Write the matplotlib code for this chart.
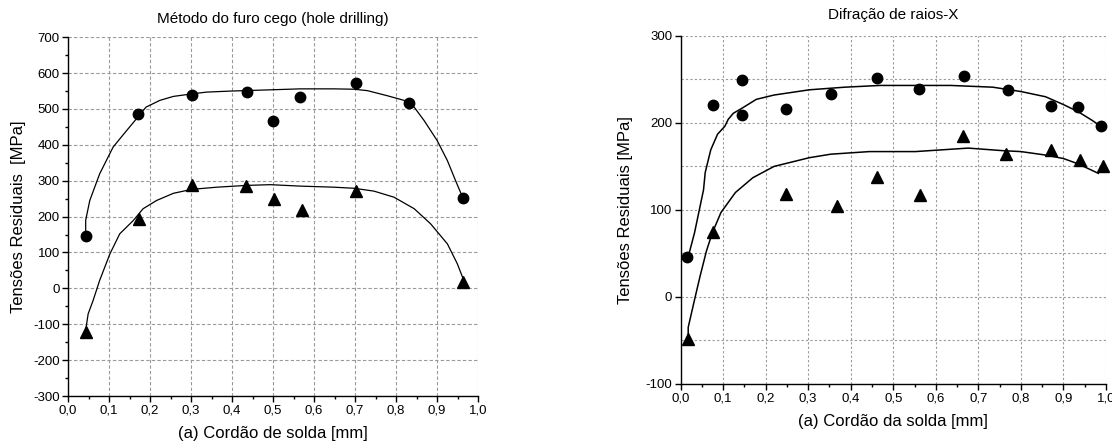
import matplotlib
matplotlib.use("Agg")
import matplotlib.pyplot as plt
from matplotlib.ticker import MultipleLocator, FuncFormatter

plt.rcParams['font.family'] = ['Liberation Sans', 'DejaVu Sans']
plt.rcParams['axes.unicode_minus'] = False

# --- Left: hole drilling ---
hd_circ_x = [0.043, 0.170, 0.302, 0.436, 0.500, 0.566, 0.703, 0.831, 0.962]
hd_circ_y = [145, 486, 538, 547, 466, 534, 572, 517, 251]
hd_tri_x = [0.043, 0.174, 0.302, 0.434, 0.503, 0.570, 0.701, 0.964]
hd_tri_y = [-122, 194, 287, 286, 248, 219, 270, 19]

hd_fit1_x = [0.043, 0.043, 0.053, 0.077, 0.110, 0.143, 0.170, 0.190, 0.224, 0.257,
             0.302, 0.338, 0.400, 0.485, 0.566, 0.648, 0.697, 0.730, 0.778, 0.819,
             0.844, 0.868, 0.900, 0.925, 0.945, 0.962]
hd_fit1_y = [150, 190, 245, 319, 394, 440, 477, 505, 524, 535,
             542, 547, 550, 553, 556, 556, 555, 551, 537, 524,
             505, 468, 412, 356, 300, 254]
hd_fit2_x = [0.043, 0.049, 0.061, 0.077, 0.102, 0.126, 0.159, 0.183, 0.216, 0.257,
             0.302, 0.363, 0.436, 0.493, 0.566, 0.648, 0.697, 0.746, 0.795, 0.844,
             0.884, 0.925, 0.949, 0.962]
hd_fit2_y = [-117, -71, -34, 22, 96, 152, 189, 222, 245, 265,
             276, 282, 287, 289, 285, 282, 279, 271, 254, 222,
             180, 124, 69, 31]

# --- Right: X-ray diffraction ---
xr_circ_x = [0.014, 0.077, 0.144, 0.144, 0.247, 0.353, 0.461, 0.560, 0.666, 0.769,
             0.871, 0.934, 0.989]
xr_circ_y = [46, 220, 249, 209, 216, 233, 251, 239, 254, 238, 219, 218, 196]
xr_tri_x = [0.018, 0.077, 0.247, 0.368, 0.462, 0.563, 0.664, 0.766, 0.871, 0.938, 0.992]
xr_tri_y = [-48, 75, 118, 104, 138, 117, 185, 164, 169, 157, 151]

xr_fit1_x = [0.018, 0.033, 0.054, 0.058, 0.071, 0.087, 0.104, 0.112, 0.124, 0.145,
             0.178, 0.220, 0.303, 0.386, 0.469, 0.552, 0.635, 0.734, 0.800, 0.858,
             0.900, 0.934, 0.967, 0.988]
xr_fit1_y = [46, 74, 123, 143, 169, 187, 196, 204, 211, 217,
             227, 232, 238, 241, 243, 243, 243, 241, 236, 230,
             221, 213, 203, 196]
xr_fit2_x = [0.018, 0.018, 0.033, 0.046, 0.061, 0.075, 0.095, 0.129, 0.170, 0.220,
             0.303, 0.353, 0.444, 0.552, 0.676, 0.759, 0.800, 0.858, 0.900, 0.934, 0.982]
xr_fit2_y = [-45, -35, -3, 24, 53, 74, 97, 120, 137, 150,
             160, 164, 167, 167, 171, 168, 167, 163, 159, 153, 142]

comma = FuncFormatter(lambda v, p: ('%.1f' % v).replace('.', ','))

fig = plt.figure(figsize=(11.12, 4.48), dpi=100)
ax1 = fig.add_axes([0.0612, 0.116, 0.3688, 0.801])
ax2 = fig.add_axes([0.612, 0.143, 0.3826, 0.777])

# left panel
ax1.plot(hd_fit1_x, hd_fit1_y, color='black', lw=0.9)
ax1.plot(hd_fit2_x, hd_fit2_y, color='black', lw=0.9)
ax1.plot(hd_circ_x, hd_circ_y, 'o', color='black', ms=7.5)
ax1.plot(hd_tri_x, hd_tri_y, '^', color='black', ms=8)
ax1.set_xlim(0, 1.0)
ax1.set_ylim(-300, 700)
ax1.xaxis.set_major_locator(MultipleLocator(0.1))
ax1.xaxis.set_minor_locator(MultipleLocator(0.05))
ax1.yaxis.set_major_locator(MultipleLocator(100))
ax1.yaxis.set_minor_locator(MultipleLocator(50))
ax1.xaxis.set_major_formatter(comma)
ax1.grid(True, which='major', color='#999999', ls=(0, (3, 2)), lw=0.8)
ax1.set_title('Método do furo cego (hole drilling)', fontsize=11, pad=10)
ax1.set_xlabel('(a) Cordão de solda [mm]', fontsize=12, labelpad=7)
ax1.set_ylabel('Tensões Residuais  [MPa]', fontsize=12, labelpad=5)

# right panel
ax2.plot(xr_fit1_x, xr_fit1_y, color='black', lw=1.1)
ax2.plot(xr_fit2_x, xr_fit2_y, color='black', lw=1.1)
ax2.plot(xr_circ_x, xr_circ_y, 'o', color='black', ms=7.5)
ax2.plot(xr_tri_x, xr_tri_y, '^', color='black', ms=8)
ax2.set_xlim(0, 1.0)
ax2.set_ylim(-100, 300)
ax2.xaxis.set_major_locator(MultipleLocator(0.1))
ax2.xaxis.set_minor_locator(MultipleLocator(0.05))
ax2.yaxis.set_major_locator(MultipleLocator(100))
ax2.yaxis.set_minor_locator(MultipleLocator(50))
ax2.xaxis.set_major_formatter(comma)
ax2.grid(True, which='major', axis='x', color='#999999', ls=(0, (2, 2)), lw=0.8)
ax2.grid(True, which='both', axis='y', color='#999999', ls=(0, (2, 2)), lw=0.8)
ax2.set_title('Difração de raios-X', fontsize=11, pad=12)
ax2.set_xlabel('(a) Cordão da solda [mm]', fontsize=12, labelpad=7)
ax2.set_ylabel('Tensões Residuais [MPa]', fontsize=12, labelpad=9)

for ax in (ax1, ax2):
    ax.spines['top'].set_visible(False)
    ax.spines['right'].set_visible(False)
    ax.spines['left'].set_linewidth(1.0)
    ax.spines['bottom'].set_linewidth(1.0)
    ax.tick_params(which='major', direction='out', length=4, width=1, labelsize=9.5, pad=2)
    ax.tick_params(which='minor', direction='out', length=2.5, width=1)
    ax.set_axisbelow(True)
ax2.tick_params(axis='y', which='minor', length=0)
for m in ax1.lines + ax2.lines:
    m.set_clip_on(False)

fig.savefig('out.png', dpi=100)
